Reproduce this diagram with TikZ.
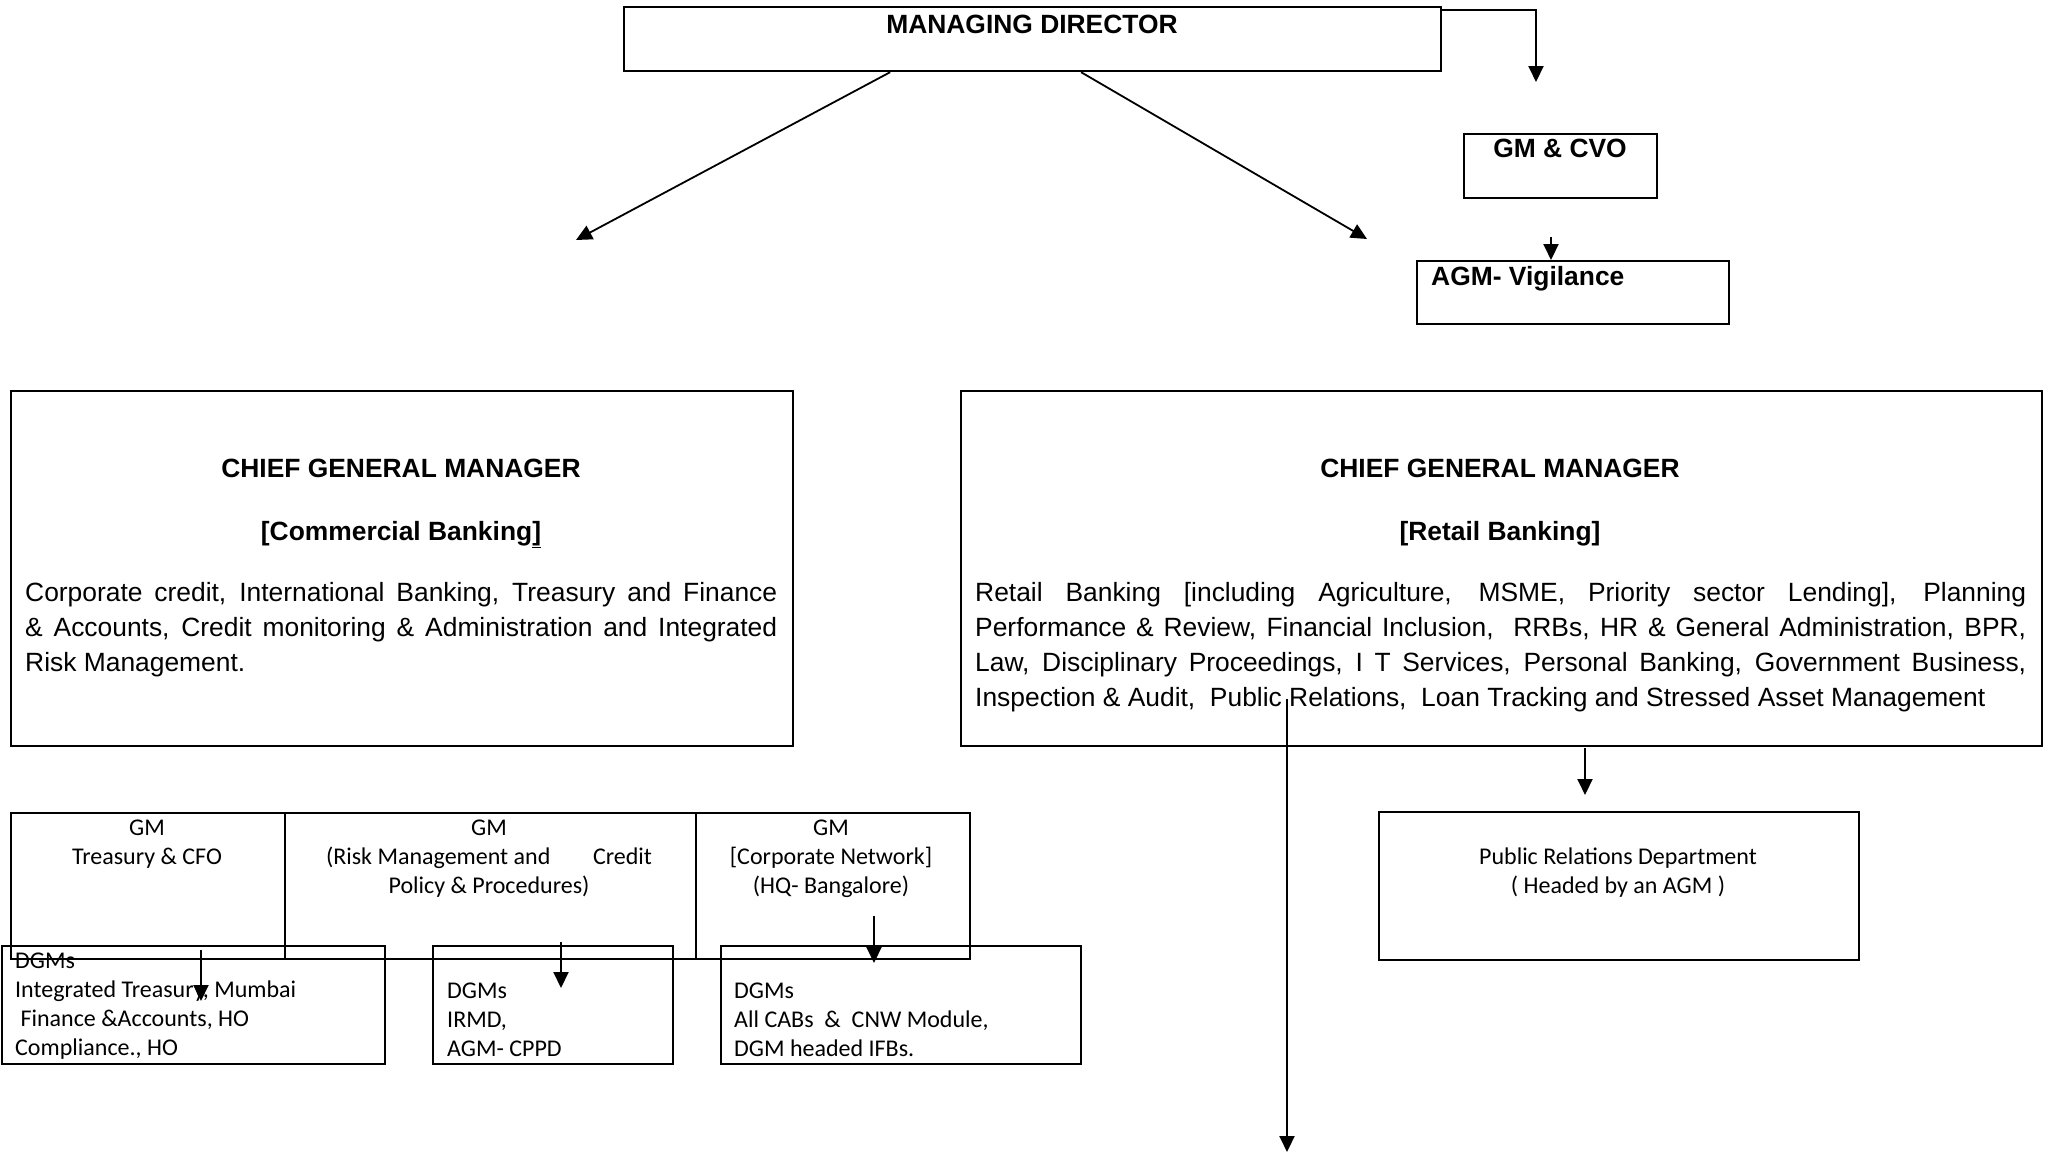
\documentclass[tikz,border=0pt]{standalone}
\usepackage{fontspec}
\setmainfont{Liberation Sans}
\newfontfamily\calibri{Carlito}
\usetikzlibrary{arrows.meta}
\newcommand\ctrline[1]{\hbox to 0pt{\hss#1\hss}}
\newcommand\stackA[1]{\vtop{\baselineskip=35pt\lineskiplimit=-100pt\lineskip=0pt #1}}
\newcommand\stackC[1]{\vtop{\baselineskip=29pt\lineskiplimit=-100pt\lineskip=0pt #1}}
\begin{document}
\begin{tikzpicture}[x=1pt,y=-1pt,
  box/.style={draw, line width=2.2pt, inner sep=0pt, anchor=north west},
  sbox/.style={draw, line width=2pt, inner sep=0pt, anchor=north west},
  arr/.style={line width=2pt, -{Triangle[length=16pt,width=15pt]}},
  darr/.style={line width=1.8pt, -{Triangle[length=16pt,width=15pt]}},
  txtA/.style={inner sep=0pt, font=\fontsize{26.4pt}{35pt}\selectfont},
  txtB/.style={inner sep=0pt, font=\fontsize{26.4pt}{35pt}\selectfont\bfseries},
  txtC/.style={inner sep=0pt, font=\calibri\fontsize{24pt}{29pt}\selectfont},
]
\useasboundingbox (0,0) rectangle (2045,1154);

% boxes
\node[box, minimum width=817pt, minimum height=64pt] (md) at (623,6) {};
\node[box, minimum width=193pt, minimum height=64pt] (cvo) at (1463,133) {};
\node[box, minimum width=312pt, minimum height=63pt] (agm) at (1416,260) {};
\node[box, minimum width=782pt, minimum height=355pt] (cgmL) at (10,390) {};
\node[box, minimum width=1081pt, minimum height=355pt] (cgmR) at (960,390) {};
\node[sbox, minimum width=274pt, minimum height=146pt] (gmT) at (10,812) {};
\node[sbox, minimum width=411pt, minimum height=146pt] (gmR) at (284,812) {};
\node[sbox, minimum width=274pt, minimum height=146pt] (gmC) at (695,812) {};
\node[sbox, minimum width=383pt, minimum height=118pt] (dgmT) at (1,945) {};
\node[sbox, minimum width=240pt, minimum height=118pt] (dgmR) at (432,945) {};
\node[sbox, minimum width=360pt, minimum height=118pt] (dgmC) at (720,945) {};
\node[sbox, minimum width=480pt, minimum height=148pt] (pr) at (1378,811) {};

% texts
\node[txtB, anchor=base] (mdt) at (1032,33) {MANAGING DIRECTOR};
\node[txtB, anchor=base] (cvot) at (1560,157) {GM \& CVO};
\node[txtB, anchor=base west] (agmt) at (1431,285) {AGM- Vigilance};

\node[txtB, anchor=base] (cgmLh) at (401,477) {CHIEF GENERAL MANAGER};
\node[txtB, anchor=base] (cgmLs) at (401,540) {[Commercial Banking\underline{]}};
\node[txtA, anchor=base west] (cgmLb) at (25,601) {\stackA{%
  \hbox to 752pt{Corporate credit, International Banking, Treasury and Finance}%
  \hbox to 752pt{\& Accounts, Credit monitoring \& Administration and Integrated}%
  \hbox{Risk Management.}}};

\node[txtB, anchor=base] (cgmRh) at (1500,477) {CHIEF GENERAL MANAGER};
\node[txtB, anchor=base] (cgmRs) at (1500,540) {[Retail Banking]};
\node[txtA, anchor=base west] (cgmRb) at (975,601) {\stackA{%
  \hbox to 1051pt{Retail Banking [including Agriculture, MSME, Priority sector Lending], Planning}%
  \hbox to 1051pt{Performance \& Review, Financial Inclusion,\ \ RRBs, HR \& General Administration, BPR,}%
  \hbox to 1051pt{Law, Disciplinary Proceedings, I T Services, Personal Banking, Government Business,}%
  \hbox{Inspection \& Audit,\ \ Public Relations,\ \ Loan Tracking and Stressed Asset Management}}};

\node[txtC, anchor=base] (gmTt) at (147,835) {\stackC{\ctrline{GM}\ctrline{Treasury \& CFO}}};
\node[txtC, anchor=base] (gmRt) at (489,835) {\stackC{\ctrline{GM}%
  \ctrline{\hbox to 326pt{(Risk Management and\hfill Credit}}%
  \ctrline{Policy \& Procedures)}}};
\node[txtC, anchor=base] (gmCt) at (831,835) {\stackC{\ctrline{GM}\ctrline{[Corporate Network]}\ctrline{(HQ- Bangalore)}}};

\node[txtC, anchor=base west] (dgmTt) at (15,968) {\stackC{\hbox{DGMs}\hbox{Integrated Treasury, Mumbai}\hbox{\ Finance \&Accounts, HO}\hbox{Compliance., HO}}};
\node[txtC, anchor=base west] (dgmRt) at (447,998) {\stackC{\hbox{DGMs}\hbox{IRMD,}\hbox{AGM- CPPD}}};
\node[txtC, anchor=base west] (dgmCt) at (734,998) {\stackC{\hbox{DGMs}\hbox{All CABs\ \ \&\ \ CNW Module,}\hbox{DGM headed IFBs.}}};

\node[txtC, anchor=base] (prt) at (1618,864) {\stackC{\ctrline{Public Relations Department}\ctrline{( Headed by an AGM )}}};

% connectors
\coordinate (c1) at (1536,82);
\draw[arr] ([yshift=-4pt]md.north east) -| (c1);
\coordinate (c2a) at (1551,237);
\draw[arr] (c2a) -- (c2a |- agm.north);
\coordinate (c3) at (576,240);
\draw[darr] ([xshift=-142.5pt]md.south) -- (c3);
\coordinate (c4) at (1367,239);
\draw[darr] ([xshift=48.5pt]md.south) -- (c4);
\coordinate (c5a) at (1287,699);
\coordinate (c5b) at (1287,1152);
\draw[arr] (c5a) -- (c5b);
\coordinate (c6a) at (1585,748);
\coordinate (c6b) at (1585,795);
\draw[arr] (c6a) -- (c6b);
\coordinate (c7a) at (201,950);
\coordinate (c7b) at (201,1001);
\draw[arr] (c7a) -- (c7b);
\coordinate (c8a) at (561,942);
\coordinate (c8b) at (561,988);
\draw[arr] (c8a) -- (c8b);
\coordinate (c9a) at (874,916);
\coordinate (c9b) at (874,963);
\draw[arr] (c9a) -- (c9b);
\end{tikzpicture}
\end{document}
